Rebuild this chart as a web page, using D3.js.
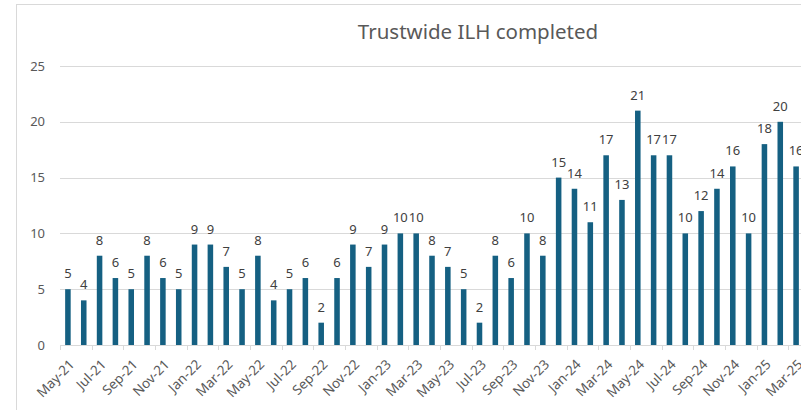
<!DOCTYPE html>
<html>
<head>
<meta charset="utf-8">
<script src="https://cdn.jsdelivr.net/npm/d3@7"></script>
<style>
  body { margin: 0; background: #fff; }
  svg { display: block; font-family: "Noto Sans", "Open Sans", sans-serif; }
</style>
</head>
<body>
<div id="chart"></div>
<script>
// months on the axis, May-21 to Mar-25
const months = ["May-21","Jun-21","Jul-21","Aug-21","Sep-21","Oct-21","Nov-21","Dec-21",
  "Jan-22","Feb-22","Mar-22","Apr-22","May-22","Jun-22","Jul-22","Aug-22","Sep-22","Oct-22","Nov-22","Dec-22",
  "Jan-23","Feb-23","Mar-23","Apr-23","May-23","Jun-23","Jul-23","Aug-23","Sep-23","Oct-23","Nov-23","Dec-23",
  "Jan-24","Feb-24","Mar-24","Apr-24","May-24","Jun-24","Jul-24","Aug-24","Sep-24","Oct-24","Nov-24","Dec-24",
  "Jan-25","Feb-25","Mar-25"];

// ILH completed per month
const completed = [5,4,8,6,5,8,6,5,
  9,9,7,5,8,4,5,6,2,6,9,7,
  9,10,10,8,7,5,2,8,6,10,8,15,
  14,11,17,13,21,17,17,10,12,14,16,10,
  18,20,16];

const yTicks = [0, 5, 10, 15, 20, 25];

const width = 801, height = 410;
const margin = {left: 60, top: 66, bottom: 345};
const step = 15.83;

const svg = d3.select("#chart")
  .append("svg")
  .attr("width", width)
  .attr("height", height);

// chart area border (runs off the right edge like the screenshot)
svg.append("rect")
  .attr("x", 16.5).attr("y", 4.5)
  .attr("width", 900).attr("height", 500)
  .attr("fill", "none")
  .attr("stroke", "#d9d9d9");

svg.append("text")
  .attr("x", 478).attr("y", 39)
  .attr("text-anchor", "middle")
  .attr("font-size", "20.5px")
  .attr("fill", "#595959")
  .text("Trustwide ILH completed");

let xScale = d3.scaleBand()
  .domain(months)
  .range([margin.left, margin.left + step * months.length])
  .paddingInner(0.65)
  .paddingOuter(0.325);

let yScale = d3.scaleLinear()
  .domain([0, 25])
  .range([margin.bottom, margin.top]);

// gridlines
svg.append("g")
  .selectAll("line")
  .data(yTicks.filter(d => d > 0))
  .enter()
  .append("line")
  .attr("x1", margin.left)
  .attr("x2", width)
  .attr("y1", d => Math.round(yScale(d)) + 0.5)
  .attr("y2", d => Math.round(yScale(d)) + 0.5)
  .attr("stroke", "#d9d9d9");

// y labels
svg.append("g")
  .selectAll("text")
  .data(yTicks)
  .enter()
  .append("text")
  .attr("x", 45)
  .attr("y", d => yScale(d))
  .attr("dy", "0.35em")
  .attr("text-anchor", "end")
  .attr("font-size", "13px")
  .attr("fill", "#595959")
  .text(d => d);

// bars
svg.append("g")
  .selectAll("rect")
  .data(months)
  .enter()
  .append("rect")
  .attr("x", d => xScale(d))
  .attr("width", xScale.bandwidth())
  .attr("y", (d, i) => yScale(completed[i]))
  .attr("height", (d, i) => yScale(0) - yScale(completed[i]))
  .attr("fill", "#156082");

// value labels
svg.append("g")
  .selectAll("text")
  .data(months)
  .enter()
  .append("text")
  .attr("x", d => xScale(d) + xScale.bandwidth() / 2)
  .attr("y", (d, i) => yScale(completed[i]) - 11)
  .attr("text-anchor", "middle")
  .attr("font-size", "13px")
  .attr("fill", "#404040")
  .text((d, i) => completed[i]);

// x axis line
svg.append("line")
  .attr("x1", margin.left).attr("x2", width)
  .attr("y1", margin.bottom + 0.5).attr("y2", margin.bottom + 0.5)
  .attr("stroke", "#d9d9d9");

// every second month gets a tick and a label
const shown = months.filter((d, i) => i % 2 === 0);

svg.append("g")
  .selectAll("line")
  .data(shown)
  .enter()
  .append("line")
  .attr("x1", d => Math.round(xScale(d) - xScale.step() * 0.325) + 0.5)
  .attr("x2", d => Math.round(xScale(d) - xScale.step() * 0.325) + 0.5)
  .attr("y1", margin.bottom)
  .attr("y2", margin.bottom + 5)
  .attr("stroke", "#d9d9d9");

svg.append("g")
  .selectAll("text")
  .data(shown)
  .enter()
  .append("text")
  .attr("transform", d => `translate(${xScale(d) + xScale.bandwidth() / 2 + 4},${margin.bottom + 17}) rotate(-45)`)
  .attr("text-anchor", "end")
  .attr("dy", "0.35em")
  .attr("font-size", "13.5px")
  .attr("fill", "#595959")
  .text(d => d);
</script>
</body>
</html>
